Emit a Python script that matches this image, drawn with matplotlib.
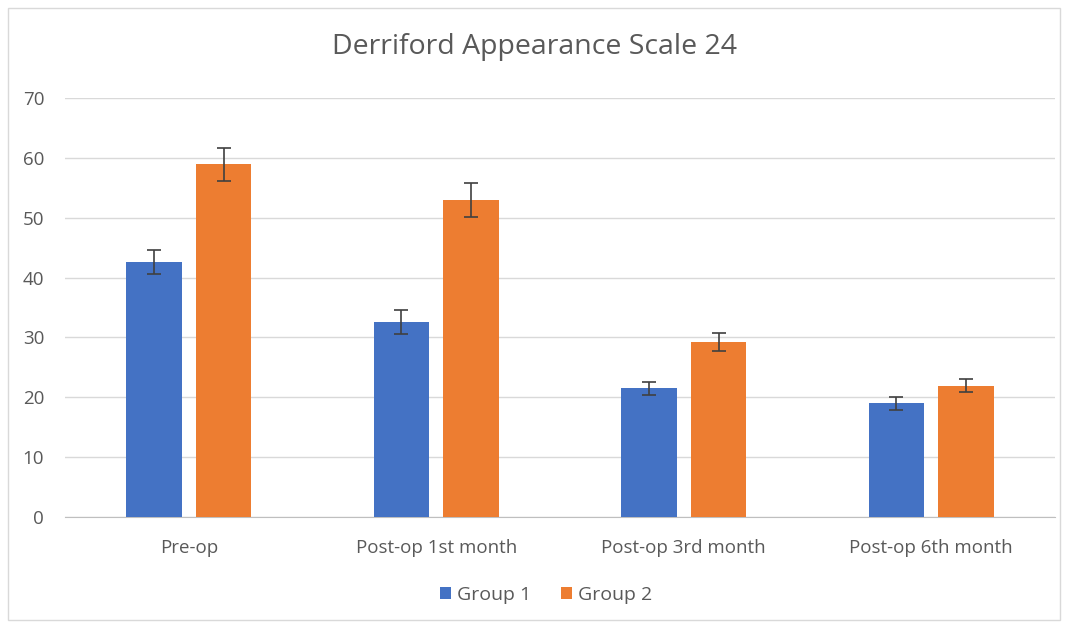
import matplotlib
matplotlib.use("Agg")
import matplotlib.pyplot as plt
import numpy as np
from matplotlib.patches import Rectangle

categories = ["Pre-op", "Post-op 1st month", "Post-op 3rd month", "Post-op 6th month"]
group1 = [42.6, 32.6, 21.5, 19.0]
group2 = [58.9, 53.0, 29.3, 21.9]
group1_err = [2.0, 2.0, 1.1, 1.1]
group2_err = [2.8, 2.8, 1.5, 1.1]
yticks = [0, 10, 20, 30, 40, 50, 60, 70]

plt.rcParams['font.family'] = ['Open Sans', 'DejaVu Sans']

fig = plt.figure(figsize=(10.68, 6.28), dpi=100)
ax = fig.add_axes([65/1068, 1 - 517/628, (1055-65)/1068, (517-98)/628])

x = np.arange(len(categories))
w = 0.225
off = 0.141
blue = "#4472C4"
orange = "#ED7D31"
ekw = dict(ecolor="#404040", elinewidth=1.2, capsize=5, capthick=1.2)
ax.bar(x - off, group1, w, color=blue, yerr=group1_err, error_kw=ekw, label="Group 1", zorder=3)
ax.bar(x + off, group2, w, color=orange, yerr=group2_err, error_kw=ekw, label="Group 2", zorder=3)

ax.set_xlim(-0.5, len(categories) - 0.5)
ax.set_ylim(0, 70)
ax.set_yticks(yticks)
ax.set_xticks(x)
ax.set_xticklabels(categories)
ax.yaxis.grid(True, color="#D9D9D9", linewidth=1, zorder=0)
ax.set_axisbelow(True)
for s in ["top", "right", "left"]:
    ax.spines[s].set_visible(False)
ax.spines["bottom"].set_color("#BFBFBF")
ax.tick_params(axis="both", length=0, labelsize=13.5, labelcolor="#595959")
ax.tick_params(axis="x", pad=16)
ax.tick_params(axis="y", pad=15)

fig.text(0.5, 1 - 47/628, "Derriford Appearance Scale 24", ha="center", va="center",
         fontsize=20.5, color="#595959")

leg = fig.legend(loc="center", bbox_to_anchor=(546/1068, 1 - 595/628), ncol=2, frameon=False,
                 fontsize=14, handlelength=0.6, handleheight=0.6, handletextpad=0.3,
                 columnspacing=1.5)
for t in leg.get_texts():
    t.set_color("#595959")

fig.patches.append(Rectangle((8/1068, 8/628), 1 - 16/1068, 1 - 16/628, transform=fig.transFigure,
                             fill=False, edgecolor="#D9D9D9", linewidth=1))

fig.savefig("out.png", dpi=100)
